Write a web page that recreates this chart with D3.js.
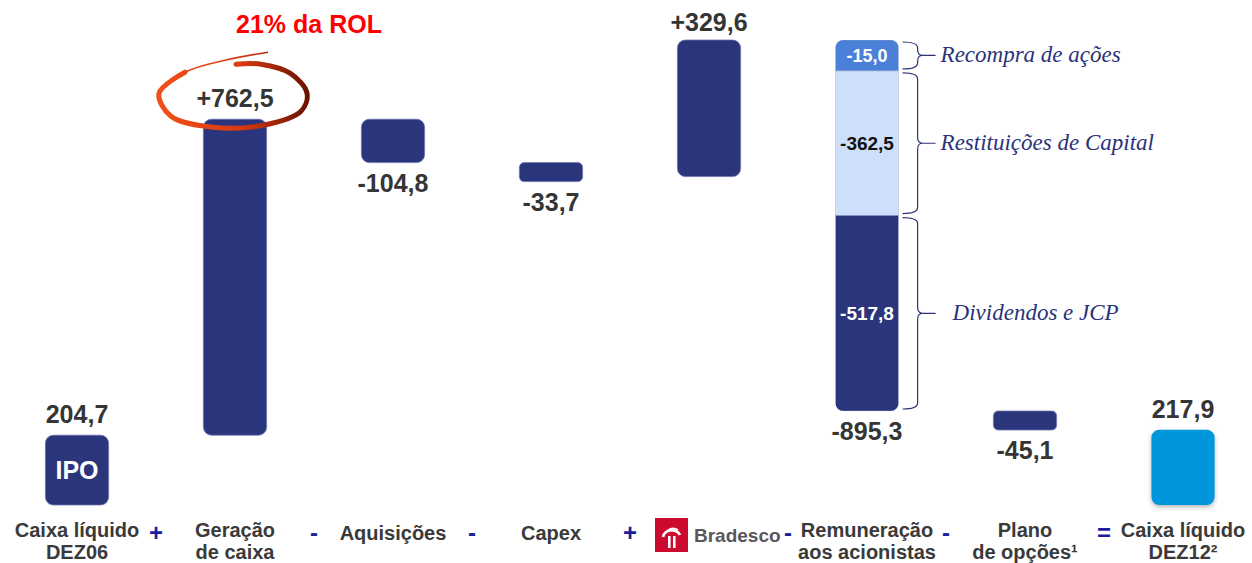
<!DOCTYPE html>
<html>
<head>
<meta charset="utf-8">
<script src="https://cdn.jsdelivr.net/npm/d3@7"></script>
<style>
    html, body { margin: 0; padding: 0; background: #fff; }
    svg { display: block; font-family: 'Liberation Sans', Arial, sans-serif; }
</style>
</head>
<body>
<svg id="chart" width="1252" height="563"></svg>
<script>
;(function(window, document, d3) {

    'use strict';

    // ---- data ----
    var categories = ['caixa06', 'geracao', 'aquisicoes', 'capex', 'bradesco', 'remuneracao', 'plano', 'caixa12'];
    var labelLines = [
        ['Caixa líquido', 'DEZ06'],
        ['Geração', 'de caixa'],
        ['Aquisições'],
        ['Capex'],
        [],
        ['Remuneração', 'aos acionistas'],
        ['Plano', 'de opções¹'],
        ['Caixa líquido', 'DEZ12²']
    ];
    var values = [204.7, 762.5, -104.8, -33.7, 329.6, -895.3, -45.1, 217.9];
    var isTotal = [true, false, false, false, false, false, false, true];
    var operators = ['+', '-', '-', '+', '-', '-', '='];
    var payoutParts = [-15.0, -362.5, -517.8];
    var payoutNames = ['Recompra de ações', 'Restituições de Capital', 'Dividendos e JCP'];
    var highlightNote = '21% da ROL';
    var startTag = 'IPO';
    var bankName = 'Bradesco';

    // ---- styles ----
    var navy = '#2b357c',
        finalBlue = '#0096dc',
        valueColor = '#353535',
        labelColor = '#3a3a3a',
        opColor = '#1c1ca0',
        noteColor = '#2a3378',
        partFill = ['#4a80d8', '#cddffa', navy],
        partText = ['#fff', '#111', '#fff'];

    var baseY = 505;
    var loc = d3.formatLocale({ decimal: ',', thousands: '.', grouping: [3], currency: ['', ''], minus: '-' });
    var fmtDelta = loc.format('+.1f'),
        fmtTotal = loc.format('.1f');

    // running waterfall
    var steps = [], run = 0;
    values.forEach(function(v, i) {
        if (isTotal[i]) {
            steps.push({ key: categories[i], i: i, lo: 0, hi: v, v: v, total: true });
            run = v;
        } else {
            steps.push({ key: categories[i], i: i, lo: Math.min(run, run + v), hi: Math.max(run, run + v), v: v, total: false });
            run += v;
        }
    });

    var svg = d3.select('#chart');

    var x = d3.scaleBand()
        .domain(categories)
        .range([-2, 1262])
        .paddingInner(0.6)
        .paddingOuter(0.3);

    var y = d3.scaleLinear()
        .domain([0, d3.max(steps, function(d) { return d.hi; })])
        .range([520, 40]);

    var cx = function(i) { return x(categories[i]) + x.bandwidth() / 2; };

    var defs = svg.append('defs');
    var sh = defs.append('filter').attr('id', 'shadow').attr('x', '-20%').attr('y', '-20%').attr('width', '140%').attr('height', '140%');
    sh.append('feDropShadow').attr('dx', 0).attr('dy', 2).attr('stdDeviation', 2).attr('flood-color', '#000').attr('flood-opacity', 0.3);

    // ---- bars ----
    var bars = svg.append('g').attr('class', 'bars');

    steps.forEach(function(d) {
        if (d.i === 5) { return; }
        var top = y(d.hi),
            bottom = d.total ? baseY : y(d.lo);
        if (bottom - top < 19) { bottom = top + 19; }
        var last = d.i === values.length - 1;
        bars.append('rect')
            .attr('x', x(d.key))
            .attr('y', top)
            .attr('width', x.bandwidth())
            .attr('height', bottom - top)
            .attr('rx', Math.min(8, (bottom - top) / 4))
            .attr('fill', last ? finalBlue : navy)
            .attr('stroke', last ? 'none' : '#6c74ad')
            .attr('stroke-width', 0.8)
            .attr('filter', last ? 'url(#shadow)' : null);
        d.top = top; d.bottom = bottom;
    });

    // stacked shareholder payout bar
    var pay = steps[5],
        pTop = y(pay.hi),
        pBot = y(pay.lo),
        minSeg = 26;
    pay.top = pTop; pay.bottom = pBot;

    defs.append('clipPath').attr('id', 'payClip')
        .append('rect')
        .attr('x', x(pay.key)).attr('y', pTop)
        .attr('width', x.bandwidth()).attr('height', pBot - pTop)
        .attr('rx', 8);

    var segScale = d3.scaleLinear()
        .domain([0, d3.sum(payoutParts, Math.abs)])
        .range([0, (pBot - pTop) - minSeg * payoutParts.length]);

    var acc = pTop, segs = [];
    payoutParts.forEach(function(v, j) {
        var h = minSeg + segScale(Math.abs(v));
        segs.push({ v: v, y0: acc, y1: acc + h, j: j });
        acc += h;
    });

    var payG = bars.append('g').attr('clip-path', 'url(#payClip)');
    payG.selectAll('rect').data(segs).enter().append('rect')
        .attr('x', x(pay.key))
        .attr('y', function(s) { return s.y0; })
        .attr('width', x.bandwidth())
        .attr('height', function(s) { return s.y1 - s.y0; })
        .attr('fill', function(s) { return partFill[s.j]; })
        .attr('stroke', '#8a9bc8')
        .attr('stroke-width', 0.6);

    payG.selectAll('text').data(segs).enter().append('text')
        .attr('x', cx(5))
        .attr('y', function(s) { return (s.y0 + s.y1) / 2; })
        .attr('dy', '0.36em')
        .attr('text-anchor', 'middle')
        .attr('font-weight', 'bold')
        .attr('font-size', function(s) { return s.j === 0 ? 18 : 19; })
        .attr('fill', function(s) { return partText[s.j]; })
        .text(function(s) { return fmtTotal(s.v); });

    // braces with handwritten notes
    function brace(x0, ya, yb) {
        var p = d3.path(), xm = x0 + 15, mid = (ya + yb) / 2, r = Math.min(6, (yb - ya) / 4);
        p.moveTo(x0, ya);
        p.quadraticCurveTo(xm, ya, xm, ya + r);
        p.lineTo(xm, mid - r);
        p.quadraticCurveTo(xm, mid, xm + 5, mid);
        p.quadraticCurveTo(xm, mid, xm, mid + r);
        p.lineTo(xm, yb - r);
        p.quadraticCurveTo(xm, yb, x0, yb);
        p.moveTo(xm + 5, mid);
        p.lineTo(xm + 18, mid);
        return p.toString();
    }

    var notes = svg.append('g').attr('class', 'notes');
    var bx = x(pay.key) + x.bandwidth() + 4;
    segs.forEach(function(s) {
        notes.append('path')
            .attr('d', brace(bx, s.y0 + 2, s.y1 - 2))
            .attr('fill', 'none')
            .attr('stroke', noteColor)
            .attr('stroke-width', 1.2);
        notes.append('text')
            .attr('x', bx + 38 + (s.j === 2 ? 12 : 0))
            .attr('y', (s.y0 + s.y1) / 2)
            .attr('dy', '0.3em')
            .attr('font-family', "'Liberation Serif', 'DejaVu Serif', serif")
            .attr('font-style', 'italic')
            .attr('font-size', 23)
            .attr('fill', noteColor)
            .text(payoutNames[s.j]);
    });

    // ---- value labels ----
    var vals = svg.append('g').attr('class', 'values')
        .attr('font-weight', 'bold')
        .attr('font-size', 25)
        .attr('fill', valueColor)
        .attr('text-anchor', 'middle');

    steps.forEach(function(d) {
        if (d.i === 1) { return; }
        var ty;
        if (d.total) { ty = d.top - 12; }
        else if (d.v > 0) { ty = d.top - 9; }
        else { ty = d.bottom + 29; }
        vals.append('text')
            .attr('x', cx(d.i))
            .attr('y', ty)
            .text(d.total ? fmtTotal(d.v) : fmtDelta(d.v));
    });

    // IPO tag inside first box
    svg.append('text')
        .attr('x', cx(0))
        .attr('y', (steps[0].top + baseY) / 2)
        .attr('dy', '0.36em')
        .attr('text-anchor', 'middle')
        .attr('font-weight', 'bold')
        .attr('font-size', 25)
        .attr('fill', '#fff')
        .text(startTag);

    // ---- highlight ring around cash generation ----
    var hx = cx(1) - 2, hy = steps[1].top - 22;
    var grad = defs.append('linearGradient').attr('id', 'ring')
        .attr('gradientUnits', 'userSpaceOnUse')
        .attr('x1', hx - 75).attr('x2', hx + 75).attr('y1', 0).attr('y2', 0);
    grad.append('stop').attr('offset', '0%').attr('stop-color', '#f2501a');
    grad.append('stop').attr('offset', '55%').attr('stop-color', '#d83a12');
    grad.append('stop').attr('offset', '100%').attr('stop-color', '#6a1200');

    var ringPts = [[35, -45], [-8, -37], [-48, -25], [-74, -4], [-62, 19], [-20, 30], [30, 28], [68, 14], [74, -4], [57, -24], [28, -33], [3, -33]];
    var ring = d3.line()
        .curve(d3.curveCatmullRom)
        .x(function(p) { return hx + p[0]; })
        .y(function(p) { return hy + p[1]; });

    svg.append('path')
        .attr('d', ring(ringPts.slice(0, 4)))
        .attr('fill', 'none').attr('stroke', 'url(#ring)').attr('stroke-width', 1.6);
    svg.append('path')
        .attr('d', ring(ringPts.slice(2)))
        .attr('fill', 'none').attr('stroke', 'url(#ring)').attr('stroke-width', 5)
        .attr('stroke-linecap', 'round');

    // the ringed value sits on top of the ring
    svg.append('text')
        .attr('x', cx(1)).attr('y', steps[1].top - 12)
        .attr('text-anchor', 'middle').attr('font-weight', 'bold').attr('font-size', 25)
        .attr('fill', valueColor)
        .text(fmtDelta(values[1]));

    svg.append('text')
        .attr('x', cx(1) + 74).attr('y', 33)
        .attr('text-anchor', 'middle').attr('font-weight', 'bold').attr('font-size', 25)
        .attr('fill', '#ff0000')
        .text(highlightNote);

    // ---- category labels ----
    var cats = svg.append('g').attr('class', 'categories')
        .attr('font-weight', 'bold')
        .attr('font-size', 20)
        .attr('fill', labelColor)
        .attr('text-anchor', 'middle');

    labelLines.forEach(function(lines, i) {
        lines.forEach(function(t, k) {
            cats.append('text')
                .attr('x', cx(i))
                .attr('y', lines.length === 1 ? 540 : 537 + k * 22)
                .text(t);
        });
    });

    // bank logo in place of a label
    var logo = svg.append('g').attr('transform', 'translate(' + (cx(4) - 54) + ',518)');
    logo.append('rect').attr('width', 33).attr('height', 34).attr('fill', '#cc0a2f');
    logo.append('path')
        .attr('d', 'M8,19 A9,8 0 0 1 25,17')
        .attr('fill', 'none').attr('stroke', '#fff').attr('stroke-width', 2.6);
    logo.append('path')
        .attr('d', 'M11,14 Q17,8 23,12')
        .attr('fill', 'none').attr('stroke', '#fff').attr('stroke-width', 1.6);
    logo.append('rect').attr('x', 13).attr('y', 18).attr('width', 2.6).attr('height', 12).attr('fill', '#fff');
    logo.append('rect').attr('x', 18).attr('y', 18).attr('width', 2.6).attr('height', 12).attr('fill', '#fff');
    logo.append('text')
        .attr('x', 39).attr('y', 24)
        .attr('font-weight', 'bold').attr('font-size', 19)
        .attr('fill', '#58585b')
        .text(bankName);

    // operators between steps
    var ops = svg.append('g').attr('class', 'operators')
        .attr('font-weight', 'bold')
        .attr('font-size', 24)
        .attr('fill', opColor)
        .attr('text-anchor', 'middle');

    operators.forEach(function(o, i) {
        ops.append('text')
            .attr('x', (cx(i) + cx(i + 1)) / 2)
            .attr('y', 533)
            .attr('dy', '0.35em')
            .text(o);
    });

}(window, document, window.d3));
</script>
</body>
</html>
